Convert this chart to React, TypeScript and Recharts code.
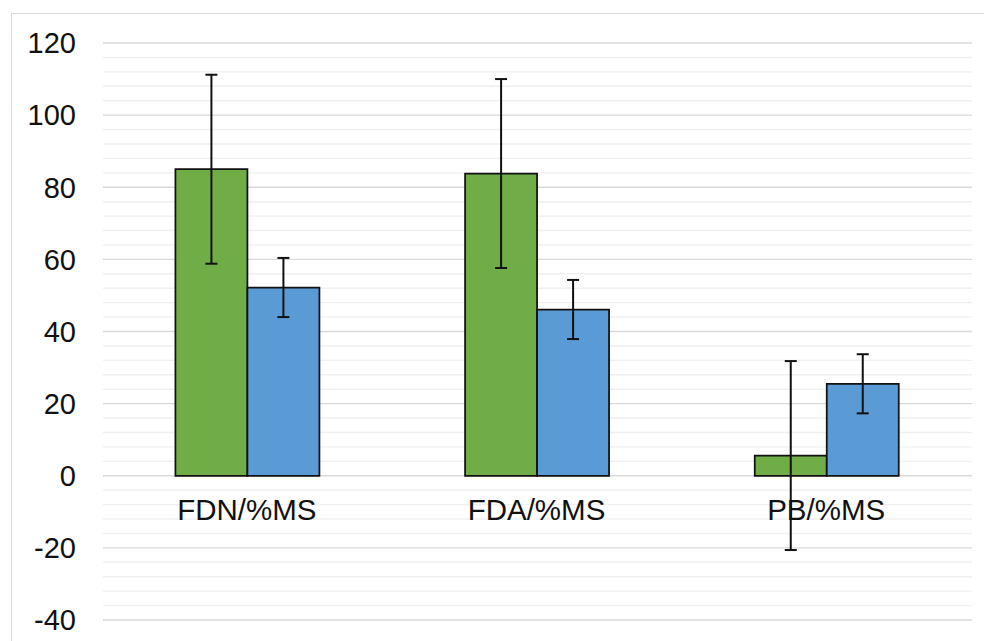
import React from 'react';
import { BarChart, Bar, XAxis, YAxis, CartesianGrid, ErrorBar } from 'recharts';

const categories = ['FDN/%MS', 'FDA/%MS', 'PB/%MS'];
const greenValues = [85.0, 83.8, 5.6];
const blueValues = [52.2, 46.1, 25.5];
const greenErrors = [26.2, 26.2, 26.2];
const blueErrors = [8.2, 8.2, 8.2];
const yTicks = [-40, -20, 0, 20, 40, 60, 80, 100, 120];
const minorTicks = [
  -36, -32, -28, -24, -16, -12, -8, -4, 4, 8, 12, 16, 24, 28, 32, 36, 44, 48, 52, 56,
  64, 68, 72, 76, 84, 88, 92, 96, 104, 108, 112, 116,
];

const Y_MIN = -40;
const Y_MAX = 120;
const W = 984;
const H = 641;
const MARGIN = { top: 43, right: 12, left: 0, bottom: 0 };
const X_AXIS_H = 21;
const PLOT_H = H - MARGIN.top - MARGIN.bottom - X_AXIS_H;

const data = categories.map((c, i) => ({
  name: c,
  green: greenValues[i],
  blue: blueValues[i],
  greenErr: greenErrors[i],
  blueErr: blueErrors[i],
}));

const FONT = '"Liberation Sans", Arial, sans-serif';
const TEXT = '#111';

const CategoryTick = (props: any) => {
  const { x, payload } = props;
  const plotBottom = MARGIN.top + PLOT_H;
  const zeroY = plotBottom - (PLOT_H * (0 - Y_MIN)) / (Y_MAX - Y_MIN);
  return (
    <text x={x - 1} y={zeroY + 44} textAnchor="middle" fontSize={29.5} fontFamily={FONT} fill={TEXT}>
      {payload.value}
    </text>
  );
};

const gen = (values: number[]) => (props: any) => {
  const scale = props && props.yAxis && props.yAxis.scale;
  const off = (props && props.offset) || {};
  return values.map((v) => {
    if (typeof scale === 'function') return scale(v);
    if (scale && typeof scale.map === 'function') return scale.map(v);
    const top = off.top ?? MARGIN.top;
    const h = off.height ?? PLOT_H;
    return top + (h * (Y_MAX - v)) / (Y_MAX - Y_MIN);
  });
};

export default function App() {
  return (
    <div
      style={{
        position: 'absolute',
        left: 0,
        top: 0,
        width: W,
        height: H,
        overflow: 'hidden',
        background: '#fff',
      }}
    >
      <div
        style={{
          position: 'absolute',
          left: 11,
          top: 13,
          width: 1100,
          height: 800,
          border: '1.5px solid #d9d9d9',
        }}
      />
      <div style={{ position: 'absolute', left: 0, top: 0 }}>
        <BarChart
          width={W}
          height={H}
          data={data}
          margin={MARGIN}
          barCategoryGap="25%"
          barGap={0}
        >
          <CartesianGrid
            vertical={false}
            stroke="#f0f0f0"
            strokeWidth={1.4}
            horizontalCoordinatesGenerator={gen(minorTicks)}
          />
          <CartesianGrid
            vertical={false}
            stroke="#d9d9d9"
            strokeWidth={1.4}
            horizontalCoordinatesGenerator={gen(yTicks)}
          />
          <XAxis
            dataKey="name"
            height={X_AXIS_H}
            axisLine={false}
            tickLine={false}
            tick={<CategoryTick />}
            interval={0}
          />
          <YAxis
            width={103}
            domain={[Y_MIN, Y_MAX]}
            ticks={yTicks}
            axisLine={false}
            tickLine={false}
            tickSize={0}
            tickMargin={27}
            interval={0}
            allowDataOverflow
            tick={{ fontSize: 29, fill: TEXT, fontFamily: FONT }}
          />
          <Bar dataKey="green" fill="#70ad47" stroke="#111" strokeWidth={1.75} isAnimationActive={false}>
            <ErrorBar dataKey="greenErr" width={6} stroke="#111" strokeWidth={2} />
          </Bar>
          <Bar dataKey="blue" fill="#5b9bd5" stroke="#111" strokeWidth={1.75} isAnimationActive={false}>
            <ErrorBar dataKey="blueErr" width={6} stroke="#111" strokeWidth={2} />
          </Bar>
        </BarChart>
      </div>
    </div>
  );
}
